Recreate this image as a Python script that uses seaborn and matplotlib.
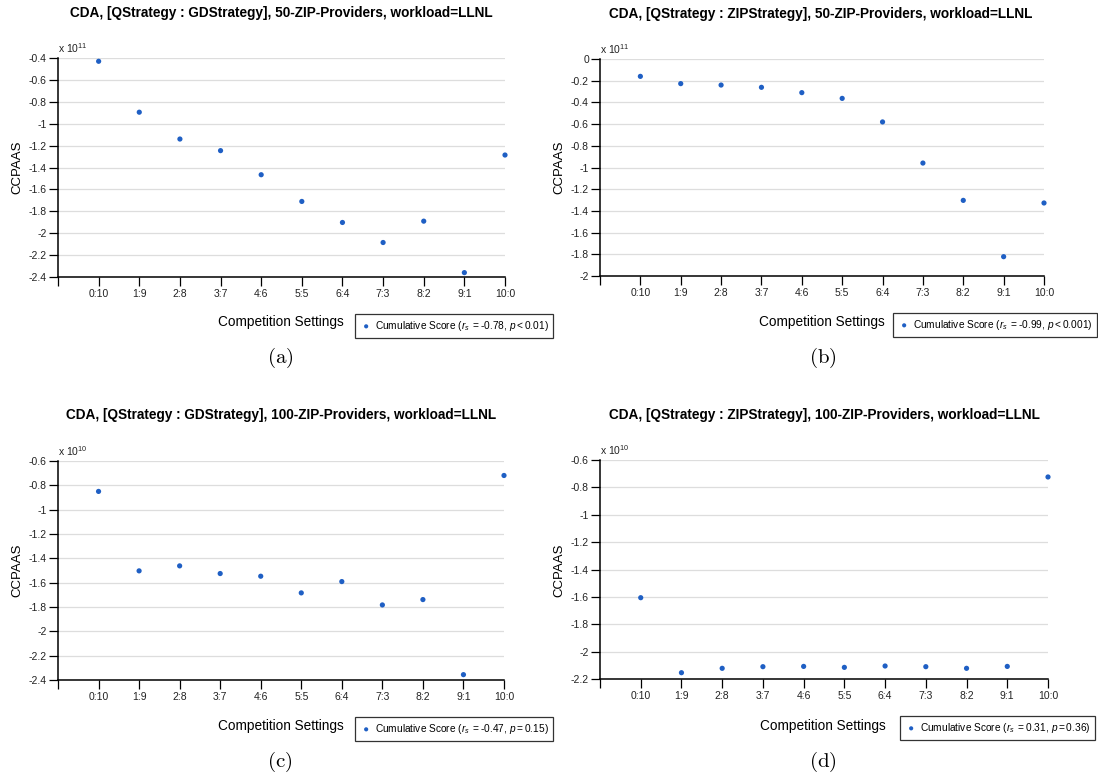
import numpy as np
import pandas as pd
import matplotlib
matplotlib.use("Agg")
import matplotlib.pyplot as plt
import seaborn as sns

# ---------------- data ----------------
categories = ["0:10", "1:9", "2:8", "3:7", "4:6", "5:5", "6:4", "7:3", "8:2", "9:1", "10:0"]

scores_a = [-0.43, -0.895, -1.14, -1.246, -1.466, -1.71, -1.902, -2.085, -1.89, -2.36, -1.286]
scores_b = [-0.16, -0.227, -0.24, -0.261, -0.31, -0.363, -0.58, -0.959, -1.303, -1.822, -1.327]
scores_c = [-0.85, -1.503, -1.462, -1.525, -1.547, -1.684, -1.591, -1.783, -1.739, -2.356, -0.719]
scores_d = [-1.606, -2.154, -2.122, -2.11, -2.108, -2.115, -2.105, -2.11, -2.122, -2.108, -0.724]

titles = [
    "CDA, [QStrategy : GDStrategy], 50-ZIP-Providers, workload=LLNL",
    "CDA, [QStrategy : ZIPStrategy], 50-ZIP-Providers, workload=LLNL",
    "CDA, [QStrategy : GDStrategy], 100-ZIP-Providers, workload=LLNL",
    "CDA, [QStrategy : ZIPStrategy], 100-ZIP-Providers, workload=LLNL",
]
exponents = [11, 11, 10, 10]
stats = ["{=}\u20100.78,\\,p{<}0.01", "{=}\u20100.99,\\,p{<}0.001",
         "{=}\u20100.47,\\,p{=}0.15", "{=}0.31,\\,p{=}0.36"]
ylims = [(-2.4, -0.4), (-2.0, 0.0), (-2.4, -0.6), (-2.2, -0.6)]
sublabels = ["(a)", "(b)", "(c)", "(d)"]

# ---------------- style ----------------
sns.set_style("ticks")
plt.rcParams["font.family"] = ["Liberation Sans", "DejaVu Sans"]
plt.rcParams["text.color"] = "black"
plt.rcParams["mathtext.fontset"] = "custom"
plt.rcParams["mathtext.rm"] = "Liberation Sans"
plt.rcParams["mathtext.it"] = "Liberation Sans:italic"
plt.rcParams["mathtext.bf"] = "Liberation Sans:bold"

W, H = 1098, 780
fig = plt.figure(figsize=(W / 100, H / 100), dpi=100)

# axes boxes in pixels: left, right, top, bottom
boxes = [(58, 505, 58, 277), (600, 1044, 59, 276), (58, 504, 461, 680), (600, 1048, 460, 679)]
title_pos = [(281, 13), (821, 14), (281, 415), (824, 415)]
ylabel_pos = [(17, 167), (559, 167), (17, 570), (559, 570)]
xlabel_pos = [(281, 322), (822, 322), (281, 726), (823, 726)]
legend_pos = [(355, 326), (893, 325), (355, 729), (900, 728)]
sub_pos = [(280, 358), (823, 358), (280, 762), (823, 762)]

all_scores = [scores_a, scores_b, scores_c, scores_d]
dot_color = "#1f5fc4"

for i in range(4):
    l, r, t, b = boxes[i]
    ax = fig.add_axes([l / W, 1 - b / H, (r - l) / W, (b - t) / H])
    df = pd.DataFrame({"setting": categories, "score": all_scores[i]})
    df["pos"] = np.arange(len(categories))
    label = "Cumulative Score ($r_s$ $\\mathit{" + stats[i] + "}$)"
    sns.scatterplot(data=df, x="pos", y="score", ax=ax, color=dot_color, s=14,
                    edgecolor="none", label=label, clip_on=False, zorder=3)
    lo, hi = ylims[i]
    ax.set_xlim(-1, 10)
    ax.set_ylim(lo, hi)
    yt = np.round(np.arange(lo, hi + 0.001, 0.2), 1) + 0.0
    ax.set_yticks(yt)
    ax.set_yticklabels(["%g" % (v if abs(v) > 1e-9 else 0.0) for v in yt])
    ax.set_xticks(np.arange(-1, len(categories)))
    ax.set_xticklabels([""] + categories)
    ax.tick_params(axis="both", direction="out", length=6.5, width=0.9, color="black",
                   labelsize=7.5, labelcolor="#222222", bottom=True, left=True)
    ax.tick_params(axis="x", pad=2)
    ax.tick_params(axis="y", pad=1.5)
    ax.yaxis.grid(True, color="#dddddd", linewidth=0.9)
    ax.xaxis.grid(False)
    ax.set_axisbelow(True)
    for s in ["top", "right"]:
        ax.spines[s].set_visible(False)
    for s in ["left", "bottom"]:
        ax.spines[s].set_color("black")
        ax.spines[s].set_linewidth(1.1)
    ax.set_xlabel("")
    ax.set_ylabel("")
    ax.text(0.0, 1.015, "x 10$^{%d}$" % exponents[i], transform=ax.transAxes,
            ha="left", va="bottom", fontsize=7.5, color="#222222")

    # legend
    lx, ly = legend_pos[i]
    ax.legend(loc="center left", bbox_to_anchor=(lx / W, 1 - ly / H),
              bbox_transform=fig.transFigure, frameon=True, fancybox=False,
              edgecolor="black", fontsize=7.3, handletextpad=0.2, borderpad=0.45,
              handlelength=1.3, markerscale=0.8, borderaxespad=0)
    leg = ax.get_legend()
    leg.get_frame().set_linewidth(0.9)

    tx, ty = title_pos[i]
    fig.text(tx / W, 1 - ty / H, titles[i], ha="center", va="center",
             fontsize=9.8, fontweight="bold")
    yx, yy = ylabel_pos[i]
    fig.text(yx / W, 1 - yy / H, "CCPAAS", ha="center", va="center",
             rotation=90, fontsize=9.5)
    xx, xy = xlabel_pos[i]
    fig.text(xx / W, 1 - xy / H, "Competition Settings", ha="center", va="center",
             fontsize=9.8)
    sx, sy = sub_pos[i]
    fig.text(sx / W, 1 - sy / H, "$\\mathrm{" + sublabels[i] + "}$", ha="center",
             va="center", fontsize=15, math_fontfamily="cm")

fig.savefig("out.png", dpi=100)
